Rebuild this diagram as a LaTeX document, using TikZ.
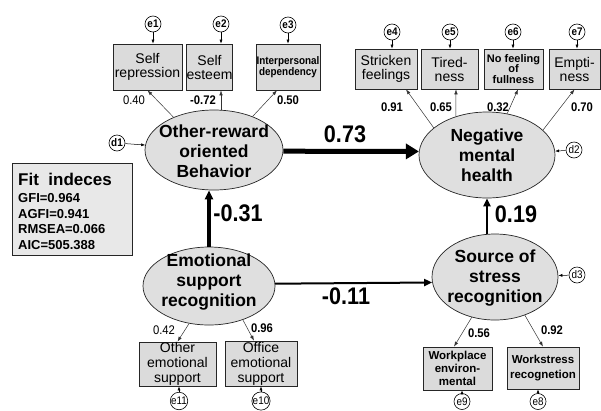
\documentclass[tikz,border=0pt]{standalone}
\usepackage{fontspec}
\setmainfont{Liberation Sans}
\newfontfamily\cond[FakeStretch=0.9]{Liberation Sans}
\usetikzlibrary{shapes.geometric,arrows.meta}
\begin{document}
\begin{tikzpicture}[x=1pt,y=-1pt,
  ell/.style={ellipse, draw=black!85, fill=gray!25, line width=0.7pt, inner sep=0pt},
  ellt/.style={align=center, inner sep=0pt, font=\bfseries\fontsize{17.5}{20}\selectfont},
  obs/.style={rectangle, draw=black!85, fill=gray!28, line width=0.7pt, inner sep=0pt, align=center},
  regt/.style={font=\fontsize{14}{14}\selectfont},
  regthree/.style={font=\fontsize{14}{15}\selectfont},
  err/.style={circle, draw=black, fill=white, line width=0.6pt, minimum size=16pt, inner sep=0pt},
  errb/.style={font=\cond\bfseries\fontsize{11}{11}\selectfont},
  errr/.style={font=\cond\fontsize{11}{11}\selectfont},
  earr/.style={draw=black, line width=0.5pt, -{Latex[length=4pt,width=3pt]}},
  load/.style={draw=black!80, line width=0.5pt, -{Latex[length=5pt,width=3.5pt]}},
  lab/.style={inner sep=0pt, font=\cond\fontsize{12.5}{12.5}\selectfont},
  labb/.style={inner sep=0pt, font=\cond\bfseries\fontsize{12.5}{12.5}\selectfont},
  big/.style={inner sep=0pt, font=\cond\bfseries\fontsize{24}{24}\selectfont},
  fitbox/.style={rectangle, draw=black!85, fill=gray!18, line width=0.7pt, inner sep=0pt}
]
\useasboundingbox (0,0) rectangle (601,410);

% latent variables
\node[ell, minimum width=138pt, minimum height=80pt] (orb) at (214,150) {};
\node[ellt] (orbt) at ([yshift=-1.6pt]orb.center) {Other-reward\\oriented\\Behavior};
\node[ell, minimum width=136pt, minimum height=86pt] (nmh) at (487,155) {};
\node[ellt] (nmht) at (nmh.center) {Negative\\mental\\health};
\node[ell, minimum width=132pt, minimum height=78pt] (esr) at (209,286) {};
\node[ellt] (esrt) at ([yshift=3.5pt]esr.center) {Emotional\\support\\recognition};
\node[ell, minimum width=126pt, minimum height=86pt] (ssr) at (495,277) {};
\node[ellt] (ssrt) at ([yshift=-1.5pt]ssr.center) {Source of\\stress\\recognition};

% observed variables
\node[obs, regt, minimum width=69pt, minimum height=46pt] (b1) at (147.5,67) {Self\\repression};
\node[obs, regt, minimum width=45pt, minimum height=46pt] (b2) at (209.5,67) {Self\\esteem};
\node[obs, font=\cond\bfseries\fontsize{11}{11}\selectfont, minimum width=64pt, minimum height=46pt] (b3) at (288,67) {Interpersonal\\dependency};
\node[obs, regt, minimum width=62pt, minimum height=40pt] (b4) at (386,69) {Stricken\\feelings};
\node[obs, regt, minimum width=57pt, minimum height=40pt] (b5) at (449.5,69) {Tired-\\ness};
\node[obs, font=\bfseries\fontsize{11}{10.5}\selectfont, minimum width=59pt, minimum height=40pt] (b6) at (513.5,69) {No feeling\\of\\fullness};
\node[obs, regt, minimum width=51pt, minimum height=40pt] (b7) at (574.5,69) {Empti-\\ness};
\node[obs, regthree, minimum width=77pt, minimum height=44pt] (b11) at (177.5,364) {Other\\emotional\\support};
\node[obs, regthree, minimum width=72pt, minimum height=45pt] (b10) at (261,363.5) {Office\\emotional\\support};
\node[obs, font=\bfseries\fontsize{11.5}{13}\selectfont, minimum width=69pt, minimum height=43pt] (b9) at (457.5,368.5) {Workplace\\environ-\\mental};
\node[obs, font=\bfseries\fontsize{11.5}{15}\selectfont, minimum width=72pt, minimum height=42pt] (b8) at (543,368) {Workstress\\recognetion};

% error terms
\node[err, errb] (e1) at (153,24) {e1};
\node[err, errb] (e2) at (221,24) {e2};
\node[err, errb] (e3) at (288,25) {e3};
\node[err, errb] (e4) at (392,32) {e4};
\node[err, errb] (e5) at (450,32) {e5};
\node[err, errb] (e6) at (513,32) {e6};
\node[err, errb] (e7) at (577,32) {e7};
\node[err, errb] (d1) at (117,143) {d1};
\node[err, errr] (d2) at (574,150) {d2};
\node[err, errr] (d3) at (577,275) {d3};
\node[err, errr] (e11) at (179,401) {e11};
\node[err, errr] (e10) at (261,401) {e10};
\node[err, errr] (e9) at (462,401.5) {e9};
\node[err, errr] (e8) at (538,401.5) {e8};

\draw[earr] (e1) -- (e1 |- b1.north);
\draw[earr] (e2) -- (e2 |- b2.north);
\draw[earr] (e3) -- (e3 |- b3.north);
\draw[earr] (e4) -- (e4 |- b4.north);
\draw[earr] (e5) -- (e5 |- b5.north);
\draw[earr] (e6) -- (e6 |- b6.north);
\draw[earr] (e7) -- (e7 |- b7.north);
\draw[earr] (e11) -- (e11 |- b11.south);
\draw[earr] (e10) -- (e10 |- b10.south);
\draw[earr] (e9) -- (e9 |- b9.south);
\draw[earr] (e8) -- (e8 |- b8.south);
\draw[earr] (d1) -- (orb);
\draw[earr] (d2) -- (nmh);
\draw[earr] (d3) -- (ssr);

% loadings
\draw[load] (orb.141) -- (b1.south);
\draw[load] (orb.north -| e2) -- (b2.south -| e2);
\draw[load] (orb.41) -- ([xshift=-11pt]b3.south);
\draw[load] (nmh.153.4) -- ([xshift=20pt]b4.south);
\draw[load] (nmh.129) -- ([xshift=6.5pt]b5.south);
\draw[load] (nmh.64) -- ([xshift=4.5pt]b6.south);
\draw[load] (nmh.24.8) -- (b7.south);
\draw[load] (esr.-118) -- (b11.north);
\draw[load] (esr.-45) -- ([xshift=-7pt]b10.north);
\draw[load] (ssr.-120.6) -- ([xshift=-3.5pt]b9.north);
\draw[load] (ssr.-52.7) -- (b8.north);

% structural paths
\draw[line width=5pt, -{Triangle[length=13pt,width=15pt]}] (orb.-1.7) -- (nmh.177.5);
\draw[line width=3.2pt, -{Triangle[length=9pt,width=8pt]}] (esr.north) -- (esr.north |- orb.south);
\draw[line width=2.4pt, -{Triangle[length=8pt,width=7pt]}] (ssr.north -| nmh.south) -- (nmh.south);
\draw[line width=2pt, -{Triangle[length=8pt,width=7pt]}] (esr.2.6) -- (ssr.185.5);

% loading labels
\node[lab] (l1) at (134,100) {0.40};
\node[labb] (l2) at (203,100) {-0.72};
\node[labb] (l3) at (288,100) {0.50};
\node[labb] (l4) at (392,107) {0.91};
\node[labb] (l5) at (441,107) {0.65};
\node[labb] (l6) at (498,107) {0.32};
\node[labb] (l7) at (582,107) {0.70};
\node[lab] (l11) at (164,330) {0.42};
\node[labb] (l10) at (262,328) {0.96};
\node[labb] (l9) at (479,333) {0.56};
\node[labb] (l8) at (552,330) {0.92};

% path coefficients
\node[big] (c1) at (345,134) {0.73};
\node[big] (c2) at (238,213) {-0.31};
\node[big] (c3) at (516,214) {0.19};
\node[big] (c4) at (346,296) {-0.11};

% fit indices
\node[fitbox, minimum width=120pt, minimum height=92pt] (fit) at (72,209) {};
\node[anchor=base west, inner sep=0pt, font=\bfseries\fontsize{17}{17}\selectfont] (fit0) at (18,185) {Fit~~indeces};
\node[anchor=base west, inner sep=0pt, font=\bfseries\fontsize{13}{13}\selectfont] (fit1) at (18,202) {GFI=0.964};
\node[anchor=base west, inner sep=0pt, font=\bfseries\fontsize{13}{13}\selectfont] (fit2) at (18,218) {AGFI=0.941};
\node[anchor=base west, inner sep=0pt, font=\bfseries\fontsize{13}{13}\selectfont] (fit3) at (18,233) {RMSEA=0.066};
\node[anchor=base west, inner sep=0pt, font=\bfseries\fontsize{13}{13}\selectfont] (fit4) at (18,249) {AIC=505.388};
\end{tikzpicture}
\end{document}
